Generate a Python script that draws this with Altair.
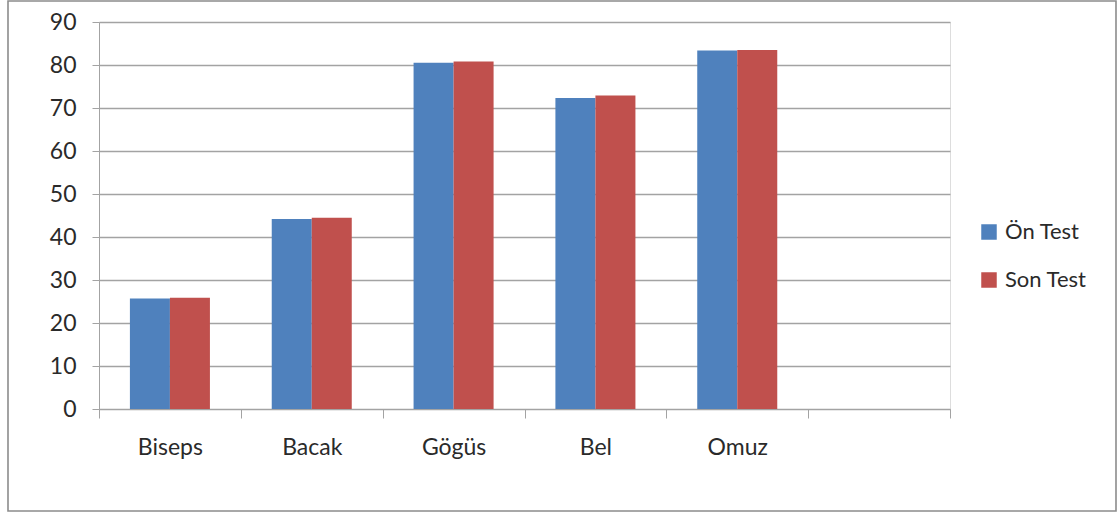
import altair as alt
import pandas as pd

# Body measurements, pre-test vs post-test
categories = ["Biseps", "Bacak", "Gögüs", "Bel", "Omuz"]
on_test = [25.7, 44.2, 80.5, 72.3, 83.4]
son_test = [25.9, 44.5, 80.8, 72.9, 83.5]
series = ["Ön Test", "Son Test"]
colors = ["#4F81BD", "#C0504D"]
# one extra empty slot on the category axis
x_domain = categories + [" "]
y_ticks = [0, 10, 20, 30, 40, 50, 60, 70, 80, 90]

rows = []
for cat, a, b in zip(categories, on_test, son_test):
    rows.append({"kategori": cat, "seri": series[0], "deger": a})
    rows.append({"kategori": cat, "seri": series[1], "deger": b})
df = pd.DataFrame(rows)

FONT = "Lato"
GRID = "#a3a3a3"
TEXT = "#2a2a2a"

bars = alt.Chart(df).mark_bar().encode(
    x=alt.X(
        "kategori:N",
        scale=alt.Scale(domain=x_domain, paddingInner=0, paddingOuter=0),
        axis=alt.Axis(
            title=None,
            labelAngle=0,
            tickBand="extent",
            tickSize=9,
            tickColor=GRID,
            domainColor=GRID,
            labelPadding=18,
            labelFontSize=23,
            labelFont=FONT,
            labelColor=TEXT,
        ),
    ),
    xOffset=alt.XOffset(
        "seri:N",
        scale=alt.Scale(domain=series, paddingInner=0, paddingOuter=0.7725),
    ),
    y=alt.Y(
        "deger:Q",
        scale=alt.Scale(domain=[0, 90], nice=False),
        axis=alt.Axis(
            title=None,
            values=y_ticks,
            tickSize=7,
            tickColor=GRID,
            domainColor=GRID,
            gridColor=GRID,
            gridWidth=1.3,
            labelPadding=16,
            labelFontSize=23,
            labelFont=FONT,
            labelColor=TEXT,
        ),
    ),
    color=alt.Color(
        "seri:N",
        scale=alt.Scale(domain=series, range=colors),
        legend=alt.Legend(
            title=None,
            orient="none",
            legendX=879,
            legendY=199,
            padding=0,
            symbolType="square",
            symbolSize=240,
            symbolStrokeWidth=0,
            labelFontSize=22,
            labelFont=FONT,
            labelColor=TEXT,
            labelOffset=5,
            rowPadding=26,
        ),
    ),
)

# outer chart frame
frame = alt.Chart(alt.Data(values=[{}])).mark_rect(
    fill="transparent", stroke="#8c8c8c", strokeWidth=1.6
).encode(
    x=alt.value(-91), x2=alt.value(1017), y=alt.value(-21), y2=alt.value(489)
)

chart = (
    alt.layer(bars, frame)
    .properties(
        width=851,
        height=387,
        padding={"left": 99, "top": 22, "right": 169, "bottom": 104},
        autosize=alt.AutoSizeParams(type="none"),
    )
    .configure_view(stroke="transparent")
    .configure(background="white")
)

chart.save("out.html", embed_options={"renderer": "svg", "actions": False})
